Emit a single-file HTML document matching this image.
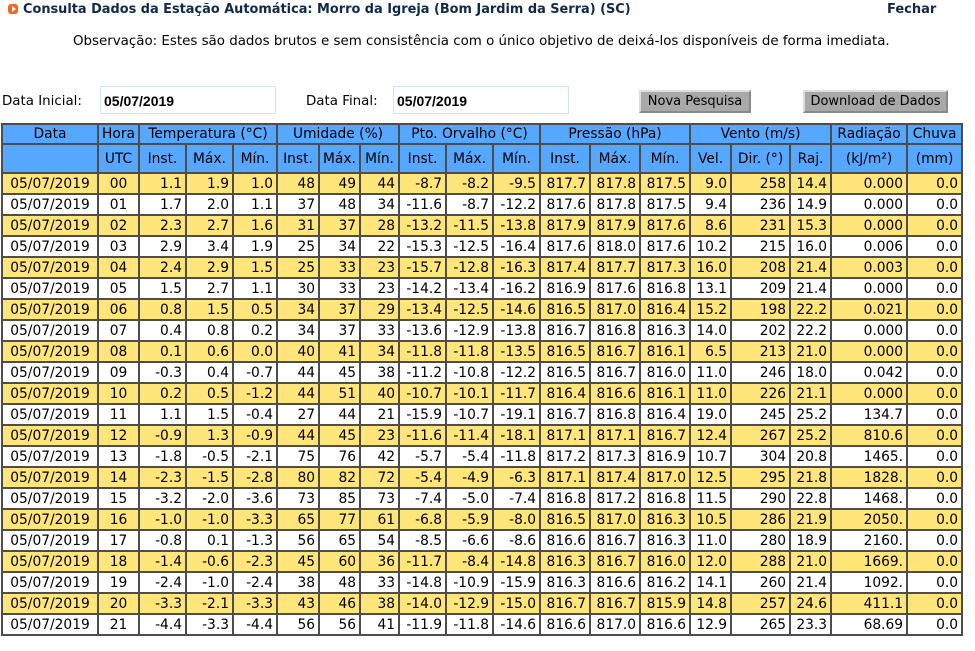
<!DOCTYPE html>
<html><head><meta charset="utf-8"><style>
body{margin:0;width:975px;height:651px;background:#fff;font-family:"DejaVu Sans","Liberation Sans",sans-serif;font-size:13px;color:#000;position:relative;overflow:hidden}
.title{position:absolute;left:8px;top:2px;font-weight:bold;color:#0f2a4a;font-size:12.9px}
.title .ic{display:inline-block;width:10px;height:10px;border-radius:3px;background:#f26522;margin-right:5px;vertical-align:-1px;position:relative}
.title .ic:after{content:"";position:absolute;left:4px;top:2px;border-left:4px solid #fff;border-top:3px solid transparent;border-bottom:3px solid transparent}
.fechar{position:absolute;left:887px;top:2px;font-weight:bold;color:#0f2a4a}
.obs{position:absolute;left:73px;top:34px;font-size:13.4px}
.lbl{position:absolute;top:94px;font-size:13.4px}
.inp{position:absolute;top:86px;height:28px;border:1px solid #cfe6f7;box-sizing:border-box;font-weight:bold;font-family:"Liberation Sans",sans-serif;font-size:14px;padding:6px 3px}
.btn{position:absolute;top:90px;height:23px;background:#a9a9a9;border:2px outset #ddd;box-sizing:border-box;text-align:center;line-height:19px}
table{position:absolute;left:1px;top:123px;border-collapse:collapse;table-layout:fixed;width:961px;font-size:13.8px}
td,th{border:2px solid #4d4d4d;padding:0 3px;height:19px;white-space:nowrap;overflow:hidden;font-weight:normal}
th{background:#55a7ff;text-align:center}
tr.h1 th{height:18px}
tr.h2 th{height:27px}
td{text-align:right}
td.c{text-align:center}
tr.y td{background:#ffe57a}
</style></head><body>
<div class="title"><span class="ic"></span>Consulta Dados da Estação Automática: Morro da Igreja (Bom Jardim da Serra) (SC)</div>
<div class="fechar">Fechar</div>
<div class="obs">Observação: Estes são dados brutos e sem consistência com o único objetivo de deixá-los disponíveis de forma imediata.</div>
<div class="lbl" style="left:2px">Data Inicial:</div>
<div class="inp" style="left:100px;width:176px">05/07/2019</div>
<div class="lbl" style="left:306px">Data Final:</div>
<div class="inp" style="left:393px;width:176px">05/07/2019</div>
<div class="btn" style="left:639px;width:112px">Nova Pesquisa</div>
<div class="btn" style="left:803px;width:145px">Download de Dados</div>
<table id="t">
<colgroup><col style="width:96px"><col style="width:41px"><col style="width:47px"><col style="width:47px"><col style="width:44px"><col style="width:42px"><col style="width:41px"><col style="width:39px"><col style="width:47px"><col style="width:47px"><col style="width:47px"><col style="width:50px"><col style="width:50px"><col style="width:50px"><col style="width:41px"><col style="width:59px"><col style="width:41px"><col style="width:76px"><col style="width:55px"></colgroup>
<tr class="h1"><th>Data</th><th>Hora</th><th colspan="3">Temperatura (°C)</th><th colspan="3">Umidade (%)</th><th colspan="3">Pto. Orvalho (°C)</th><th colspan="3">Pressão (hPa)</th><th colspan="3">Vento (m/s)</th><th>Radiação</th><th>Chuva</th></tr>
<tr class="h2"><th></th><th>UTC</th><th>Inst.</th><th>Máx.</th><th>Mín.</th><th>Inst.</th><th>Máx.</th><th>Mín.</th><th>Inst.</th><th>Máx.</th><th>Mín.</th><th>Inst.</th><th>Máx.</th><th>Mín.</th><th>Vel.</th><th>Dir. (°)</th><th>Raj.</th><th>(kJ/m²)</th><th>(mm)</th></tr>
</table>
<script>
const rows=[
"00|1.1|1.9|1.0|48|49|44|-8.7|-8.2|-9.5|817.7|817.8|817.5|9.0|258|14.4|0.000|0.0",
"01|1.7|2.0|1.1|37|48|34|-11.6|-8.7|-12.2|817.6|817.8|817.5|9.4|236|14.9|0.000|0.0",
"02|2.3|2.7|1.6|31|37|28|-13.2|-11.5|-13.8|817.9|817.9|817.6|8.6|231|15.3|0.000|0.0",
"03|2.9|3.4|1.9|25|34|22|-15.3|-12.5|-16.4|817.6|818.0|817.6|10.2|215|16.0|0.006|0.0",
"04|2.4|2.9|1.5|25|33|23|-15.7|-12.8|-16.3|817.4|817.7|817.3|16.0|208|21.4|0.003|0.0",
"05|1.5|2.7|1.1|30|33|23|-14.2|-13.4|-16.2|816.9|817.6|816.8|13.1|209|21.4|0.000|0.0",
"06|0.8|1.5|0.5|34|37|29|-13.4|-12.5|-14.6|816.5|817.0|816.4|15.2|198|22.2|0.021|0.0",
"07|0.4|0.8|0.2|34|37|33|-13.6|-12.9|-13.8|816.7|816.8|816.3|14.0|202|22.2|0.000|0.0",
"08|0.1|0.6|0.0|40|41|34|-11.8|-11.8|-13.5|816.5|816.7|816.1|6.5|213|21.0|0.000|0.0",
"09|-0.3|0.4|-0.7|44|45|38|-11.2|-10.8|-12.2|816.5|816.7|816.0|11.0|246|18.0|0.042|0.0",
"10|0.2|0.5|-1.2|44|51|40|-10.7|-10.1|-11.7|816.4|816.6|816.1|11.0|226|21.1|0.000|0.0",
"11|1.1|1.5|-0.4|27|44|21|-15.9|-10.7|-19.1|816.7|816.8|816.4|19.0|245|25.2|134.7|0.0",
"12|-0.9|1.3|-0.9|44|45|23|-11.6|-11.4|-18.1|817.1|817.1|816.7|12.4|267|25.2|810.6|0.0",
"13|-1.8|-0.5|-2.1|75|76|42|-5.7|-5.4|-11.8|817.2|817.3|816.9|10.7|304|20.8|1465.|0.0",
"14|-2.3|-1.5|-2.8|80|82|72|-5.4|-4.9|-6.3|817.1|817.4|817.0|12.5|295|21.8|1828.|0.0",
"15|-3.2|-2.0|-3.6|73|85|73|-7.4|-5.0|-7.4|816.8|817.2|816.8|11.5|290|22.8|1468.|0.0",
"16|-1.0|-1.0|-3.3|65|77|61|-6.8|-5.9|-8.0|816.5|817.0|816.3|10.5|286|21.9|2050.|0.0",
"17|-0.8|0.1|-1.3|56|65|54|-8.5|-6.6|-8.6|816.6|816.7|816.3|11.0|280|18.9|2160.|0.0",
"18|-1.4|-0.6|-2.3|45|60|36|-11.7|-8.4|-14.8|816.3|816.7|816.0|12.0|288|21.0|1669.|0.0",
"19|-2.4|-1.0|-2.4|38|48|33|-14.8|-10.9|-15.9|816.3|816.6|816.2|14.1|260|21.4|1092.|0.0",
"20|-3.3|-2.1|-3.3|43|46|38|-14.0|-12.9|-15.0|816.7|816.7|815.9|14.8|257|24.6|411.1|0.0",
"21|-4.4|-3.3|-4.4|56|56|41|-11.9|-11.8|-14.6|816.6|817.0|816.6|12.9|265|23.3|68.69|0.0"];
const date="05/07/2019";
const t=document.getElementById('t');
rows.forEach((r,i)=>{
 const tr=document.createElement('tr');
 
 
 if(i%2==0)tr.className='y';
 const v=[date].concat(r.split('|'));
 v.forEach((x,j)=>{
  const td=document.createElement('td');
  
  
  if(j<2)td.className='c';
  td.textContent=x;tr.appendChild(td);
 });
 t.appendChild(tr);
});
</script>
</body></html>
